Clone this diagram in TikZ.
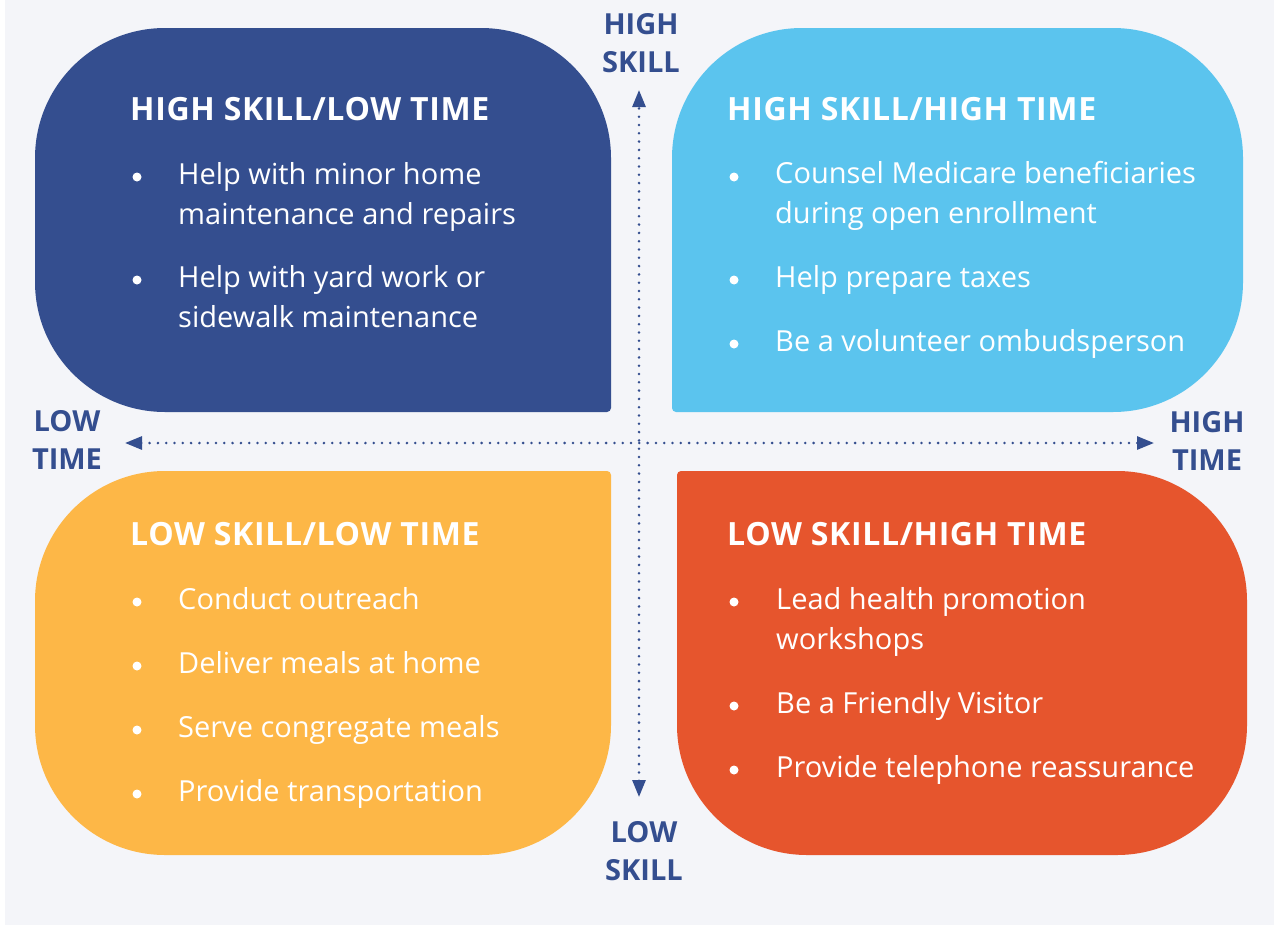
\documentclass[tikz,border=0pt]{standalone}
\usepackage{fontspec}
\setmainfont{Open Sans}
\usetikzlibrary{arrows.meta}

\definecolor{skilldark}{HTML}{344E8F}
\definecolor{skillsky}{HTML}{5BC4EE}
\definecolor{skillamber}{HTML}{FDB747}
\definecolor{skillbrick}{HTML}{E6552D}
\definecolor{skillpaper}{HTML}{F4F5F9}

% квадрант: цвет, x0, y0, x1, y1, радиусы углов (лв, пв, пн, лн)
\newcommand{\kvadrant}[9]{%
  \fill[#1] (#2,#3+#6) arc[start angle=180, end angle=270, radius=#6]
    -- (#4-#7,#3) arc[start angle=270, end angle=360, radius=#7]
    -- (#4,#5-#8) arc[start angle=0, end angle=90, radius=#8]
    -- (#2+#9,#5) arc[start angle=90, end angle=180, radius=#9] -- cycle;}

\tikzset{
  head/.style={font=\fontsize{32}{38}\selectfont\bfseries\addfontfeatures{LetterSpace=2}, text=white, anchor=base west, inner sep=0pt},
  item/.style={font=\fontsize{29}{40}\selectfont, text=white, anchor=base west, inner sep=0pt, align=left},
  axislabel/.style={font=\fontsize{29}{38}\selectfont\bfseries, text=skilldark, anchor=base, inner sep=0pt, align=center},
  axisline/.style={skilldark, line width=2.8pt, line cap=round, dash pattern=on 0pt off 8.3pt,
    {Triangle[length=17pt,width=13pt]}-{Triangle[length=17pt,width=13pt]}}
}

\begin{document}
\begin{tikzpicture}[x=1pt, y=-1pt]
  % Фон
  \useasboundingbox (0,0) rectangle (1274,926);
  \fill[skillpaper] (5,0) rectangle (1274,925);

  % Квадранты
  \kvadrant{skilldark}{35}{28}{611}{412}{130}{130}{4}{130}
  \kvadrant{skillsky}{672}{28}{1243}{412}{130}{130}{130}{4}
  \kvadrant{skillamber}{35}{471}{611}{855}{130}{4}{130}{130}
  \kvadrant{skillbrick}{677}{471}{1247}{855}{4}{130}{130}{130}

  % Оси
  \coordinate (skilltop) at (639,90);
  \coordinate (skillbot) at (639,797);
  \coordinate (timeleft) at (125,443);
  \coordinate (timeright) at (1154,443);
  \draw[axisline] (timeleft) -- (timeright);
  \draw[axisline] (skillbot) -- (skilltop);

  % Подписи осей (база -- по последней строке)
  \node[axislabel] (highskill) at (641,72) {HIGH\\SKILL};
  \node[axislabel] (lowskill) at (644,880) {LOW\\SKILL};
  \node[axislabel] (lowtime) at (67,469) {LOW\\TIME};
  \node[axislabel] (hightime) at (1207,470) {HIGH\\TIME};

  % Высокий навык / мало времени
  \node[head] (hsltT) at (130,120) {HIGH SKILL/LOW TIME};
  \fill[white] (137,177) circle (4.5);
  \node[item] (hslt1) at (178,224) {Help with minor home\\maintenance and repairs};
  \fill[white] (137,280) circle (4.5);
  \node[item] (hslt2) at (178,327) {Help with yard work or\\sidewalk maintenance};

  % Высокий навык / много времени
  \node[head] (hshtT) at (727,120) {HIGH SKILL/HIGH TIME};
  \fill[white] (734,177) circle (4.5);
  \node[item] (hsht1) at (775,223) {Counsel Medicare beneficiaries\\during open enrollment};
  \fill[white] (734,280) circle (4.5);
  \node[item] (hsht2) at (775,287) {Help prepare taxes};
  \fill[white] (734,344) circle (4.5);
  \node[item] (hsht3) at (775,351) {Be a volunteer ombudsperson};

  % Низкий навык / мало времени
  \node[head] (lsltT) at (130,545) {LOW SKILL/LOW TIME};
  \fill[white] (137,602) circle (4.5);
  \node[item] (lslt1) at (178,609) {Conduct outreach};
  \fill[white] (137,666) circle (4.5);
  \node[item] (lslt2) at (178,673) {Deliver meals at home};
  \fill[white] (137,730) circle (4.5);
  \node[item] (lslt3) at (178,737) {Serve congregate meals};
  \fill[white] (137,794) circle (4.5);
  \node[item] (lslt4) at (178,801) {Provide transportation};

  % Низкий навык / много времени
  \node[head] (lshtT) at (727,545) {LOW SKILL/HIGH TIME};
  \fill[white] (734,602) circle (4.5);
  \node[item] (lsht1) at (776,649) {Lead health promotion\\workshops};
  \fill[white] (734,706) circle (4.5);
  \node[item] (lsht2) at (776,713) {Be a Friendly Visitor};
  \fill[white] (734,770) circle (4.5);
  \node[item] (lsht3) at (776,777) {Provide telephone reassurance};
\end{tikzpicture}
\end{document}
